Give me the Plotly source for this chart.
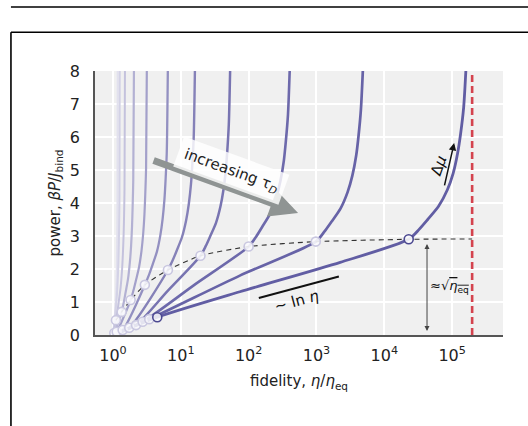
import numpy as np
import plotly.graph_objects as go

# ---- data (x given as log10 of fidelity eta/eta_eq) ----
c1_log = [0, 0.653, 1.87, 3.35, 4.36, 4.513, 4.64, 4.80, 4.93, 5.015, 5.08, 5.125, 5.17, 5.21]
c1_y = [0, 0.54, 1.31, 2.20, 2.90, 3.2, 3.5, 3.9, 4.4, 4.9, 5.5, 6.1, 6.9, 8.3]
c2_log = [0, 0.535, 1.87, 2.99, 3.116, 3.221, 3.354, 3.459, 3.529, 3.585, 3.62, 3.655, 3.69]
c2_y = [0, 0.48, 1.80, 2.83, 3.13, 3.43, 3.83, 4.33, 4.83, 5.43, 6.03, 6.83, 8.3]
c3_log = [0, 0.438, 1.2, 2.0, 2.11, 2.201, 2.317, 2.409, 2.47, 2.519, 2.549, 2.58, 2.61]
c3_y = [0, 0.40, 1.52, 2.68, 2.98, 3.28, 3.68, 4.18, 4.68, 5.28, 5.88, 6.68, 8.3]
c4_log = [0, 0.34, 0.8, 1.29, 1.369, 1.435, 1.519, 1.585, 1.629, 1.664, 1.686, 1.708, 1.73]
c4_y = [0, 0.30, 1.32, 2.40, 2.70, 3.0, 3.4, 3.9, 4.4, 5.0, 5.6, 6.4, 8.3]
c5_log = [0, 0.24, 0.81, 0.882, 0.942, 1.018, 1.078, 1.118, 1.15, 1.17, 1.19, 1.21]
c5_y = [0, 0.22, 1.97, 2.27, 2.57, 2.97, 3.47, 3.97, 4.57, 5.17, 5.97, 8.3]
c6_log = [0, 0.143, 0.47, 0.531, 0.582, 0.647, 0.698, 0.732, 0.759, 0.776, 0.793, 0.81]
c6_y = [0, 0.15, 1.52, 1.82, 2.12, 2.52, 3.02, 3.52, 4.12, 4.72, 5.52, 8.3]
c7_log = [0, 0.055, 0.26, 0.303, 0.339, 0.385, 0.421, 0.445, 0.464, 0.476, 0.488, 0.50]
c7_y = [0, 0.10, 1.06, 1.36, 1.66, 2.06, 2.56, 3.06, 3.66, 4.26, 5.06, 8.3]
c8_log = [0, 0.02, 0.128, 0.160, 0.187, 0.222, 0.249, 0.267, 0.281, 0.290, 0.299, 0.31]
c8_y = [0, 0.06, 0.70, 1.0, 1.3, 1.7, 2.2, 2.7, 3.3, 3.9, 4.7, 8.3]
c9_log = [0, 0.044, 0.068, 0.088, 0.113, 0.133, 0.146, 0.157, 0.164, 0.170, 0.177]
c9_y = [0, 0.45, 0.75, 1.05, 1.45, 1.95, 2.45, 3.05, 3.65, 4.45, 8.3]
c10_log = [0, 0.012, 0.028, 0.041, 0.058, 0.071, 0.08, 0.087, 0.091, 0.096, 0.10]
c10_y = [0, 0.2, 0.5, 0.8, 1.2, 1.7, 2.2, 2.8, 3.4, 4.2, 8.3]
c11_log = [0, 0.006, 0.02, 0.035, 0.05, 0.06, 0.066, 0.07]
c11_y = [0, 0.12, 0.4, 0.8, 1.5, 2.5, 4.0, 8.3]

# crossing points on the dashed "~sqrt(eta_eq)" curve
dash_log = [0.044, 0.128, 0.26, 0.47, 0.81, 1.29, 2.0, 2.99, 4.36, 5.295]
dash_y = [0.45, 0.70, 1.06, 1.52, 1.97, 2.40, 2.68, 2.83, 2.90, 2.91]
# lower markers
low_log = [0.02, 0.055, 0.143, 0.24, 0.34, 0.438, 0.535, 0.653]
low_y = [0.06, 0.10, 0.15, 0.22, 0.30, 0.40, 0.48, 0.54]
# limit fidelity (red dashed line), log10
eta_max_log = 5.295
# ~ ln eta guide segment
lnguide_log = [2.15, 3.33]
lnguide_y = [1.12, 1.77]

tick_vals = [1, 10, 100, 1000, 10000, 100000]
tick_text = ["10<sup>0</sup>", "10<sup>1</sup>", "10<sup>2</sup>", "10<sup>3</sup>",
             "10<sup>4</sup>", "10<sup>5</sup>"]
y_ticks = [0, 1, 2, 3, 4, 5, 6, 7, 8]

curves_log = [c11_log, c10_log, c9_log, c8_log, c7_log, c6_log, c5_log, c4_log, c3_log, c2_log, c1_log]
curves_y = [c11_y, c10_y, c9_y, c8_y, c7_y, c6_y, c5_y, c4_y, c3_y, c2_y, c1_y]
colors = ["#e2e1ee", "#d3d2e6", "#c4c2dd", "#b3b1d3", "#a3a0ca", "#9390c1",
          "#8581b8", "#7874b1", "#6d69ab", "#6763a7", "#615da3"]
widths = [2, 2, 2, 2.2, 2.2, 2.3, 2.4, 2.5, 2.6, 2.7, 2.8]

def e(v):
    return np.power(10.0, np.asarray(v, dtype=float))

fig = go.Figure()

for lg, yy, col, w in zip(curves_log, curves_y, colors, widths):
    fig.add_trace(go.Scatter(x=e(lg), y=yy, mode="lines",
                             line=dict(color=col, width=w, shape="spline", smoothing=0.7),
                             hoverinfo="skip"))

# red dashed limit
fig.add_trace(go.Scatter(x=e([eta_max_log, eta_max_log]), y=[0, 8], mode="lines",
                         line=dict(color="#d4434e", width=2.6, dash="7px,4px")))

# dashed sqrt curve
fig.add_trace(go.Scatter(x=e(dash_log), y=dash_y, mode="lines",
                         line=dict(color="#333333", width=1.1, dash="5px,4px", shape="spline", smoothing=0.6)))

# ln eta guide
fig.add_trace(go.Scatter(x=e(lnguide_log), y=lnguide_y, mode="lines",
                         line=dict(color="#111111", width=2)))

# markers
light_out = "#c9c7e0"
dark_out = "#4b4890"
fig.add_trace(go.Scatter(x=e(low_log), y=low_y, mode="markers",
                         marker=dict(size=9, color="rgba(250,250,253,0.85)",
                                     line=dict(color=[light_out] * 7 + [dark_out], width=1.6))))
fig.add_trace(go.Scatter(x=e(dash_log[:-1]), y=dash_y[:-1], mode="markers",
                         marker=dict(size=9, color="rgba(250,250,253,0.9)",
                                     line=dict(color=[light_out] * 8 + [dark_out], width=1.6))))

annotations = []
# gray arrow increasing tau_D
annotations.append(dict(x=2.729, y=3.70, xref="x", yref="y", ax=-146, ay=-53,
                        showarrow=True, arrowhead=2, arrowsize=0.8, arrowwidth=7,
                        arrowcolor="#8f9493", text=""))
annotations.append(dict(x=1.74, y=5.0, xref="x", yref="y", showarrow=False,
                        text="increasing τ<sub><i>D</i></sub>", textangle=20,
                        font=dict(family="DejaVu Sans", size=15, color="#222"),
                        bgcolor="rgba(255,255,255,0.82)", borderpad=6))
# delta mu
annotations.append(dict(x=5.03, y=5.82, xref="x", yref="y", ax=-10, ay=44,
                        showarrow=True, arrowhead=2, arrowsize=1, arrowwidth=1.5,
                        arrowcolor="#111", text=""))
annotations.append(dict(x=4.80, y=5.12, xref="x", yref="y", showarrow=False,
                        text="Δ<i>μ</i>", textangle=-70,
                        font=dict(family="DejaVu Sans", size=15, color="#111")))
# ln eta label
annotations.append(dict(x=2.71, y=1.02, xref="x", yref="y", showarrow=False,
                        text="~ ln <i>η</i>", textangle=-15,
                        font=dict(family="DejaVu Sans", size=15, color="#111")))
# double arrow sqrt(eta_eq)
annotations.append(dict(x=4.63, y=0.12, xref="x", yref="y", ax=4.63, ay=2.80,
                        axref="x", ayref="y", showarrow=True, arrowhead=2, startarrowhead=2,
                        arrowside="end+start", arrowsize=1, startarrowsize=1, arrowwidth=1,
                        arrowcolor="#444", text=""))
annotations.append(dict(x=4.955, y=1.48, xref="x", yref="y", showarrow=False,
                        text="≈√<span style='text-decoration:overline'><i>η</i><sub>eq</sub></span>",
                        font=dict(family="DejaVu Sans", size=13, color="#111")))

# frame lines (paper coords)
shapes = [
    dict(type="line", xref="paper", yref="paper", x0=-0.206, x1=1.1, y0=1.2424, y1=1.2424,
         line=dict(color="#000", width=1.3)),
    dict(type="line", xref="paper", yref="paper", x0=-0.206, x1=1.1, y0=1.1466, y1=1.1466,
         line=dict(color="#000", width=1.6)),
    dict(type="line", xref="paper", yref="paper", x0=-0.206, x1=-0.206, y0=1.1466, y1=-0.4,
         line=dict(color="#000", width=1.6)),
]

fig.update_layout(
    width=528, height=426,
    margin=dict(l=95, r=25, t=71, b=91),
    paper_bgcolor="white", plot_bgcolor="#f0f0f0",
    showlegend=False,
    font=dict(family="DejaVu Sans", size=15, color="#222"),
    annotations=annotations, shapes=shapes,
)
fig.update_xaxes(type="log", range=[-0.265, 5.75], tickvals=tick_vals, ticktext=tick_text,
                 showgrid=True, gridcolor="white", gridwidth=1.5, zeroline=False,
                 showline=True, linecolor="#555", linewidth=1.5,
                 ticks="outside", ticklen=5, tickcolor="rgba(0,0,0,0)",
                 tickfont=dict(size=16),
                 title=dict(text="fidelity, <i>η</i>/<i>η</i><sub>eq</sub>", standoff=12,
                            font=dict(size=15)))
fig.update_yaxes(range=[0, 8], tickvals=y_ticks, showgrid=True, gridcolor="white", gridwidth=1.5,
                 zeroline=False, showline=True, linecolor="#555", linewidth=1.5,
                 ticks="outside", ticklen=10, tickcolor="rgba(0,0,0,0)",
                 tickfont=dict(size=16),
                 title=dict(text="power, <i>βP</i>/<i>J</i><sub>bind</sub>", standoff=6,
                            font=dict(size=15)))

fig.write_html("out.html", config={"displayModeBar": False},
               post_script="document.body.style.margin='0';")
